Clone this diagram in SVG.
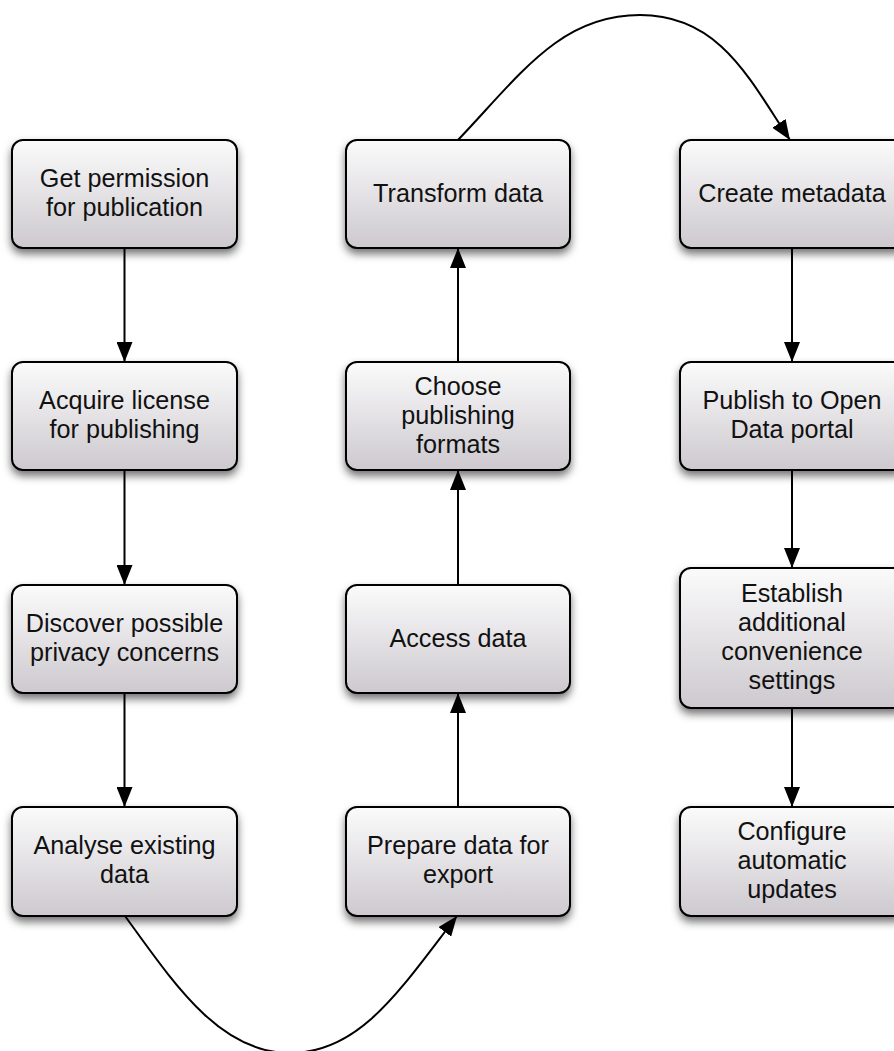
<svg xmlns="http://www.w3.org/2000/svg" width="894" height="1051" viewBox="0 0 894 1051">
<defs>
<linearGradient id="g" x1="0" y1="0" x2="0" y2="1">
<stop offset="0" stop-color="#fbfbfb"/>
<stop offset="1" stop-color="#cdc9cf"/>
</linearGradient>
<filter id="sh" x="-10%" y="-10%" width="125%" height="135%">
<feDropShadow dx="0" dy="5" stdDeviation="4" flood-color="#000" flood-opacity="0.55"/>
</filter>
<marker id="ah" markerUnits="userSpaceOnUse" markerWidth="20" markerHeight="16" refX="20" refY="8" orient="auto">
<path d="M0,0 L20,8 L0,16 z" fill="#000"/>
</marker>
</defs>
<style>
.box{fill:url(#g);stroke:#000;stroke-width:2;filter:url(#sh)}
.t{font-family:"Liberation Sans",Arial,sans-serif;font-size:25.2px;fill:#111;text-anchor:middle}
.c{fill:none;stroke:#000;stroke-width:2;marker-end:url(#ah)}
</style>
<g id="connectors">
<path class="c" d="M124.5,248 V362"/>
<path class="c" d="M124.5,470 V585"/>
<path class="c" d="M124.5,693 V807"/>
<path class="c" d="M125,916 C175,985 220,1053 290,1053 C360,1053 400,990 457,916"/>
<path class="c" d="M458,807 V693"/>
<path class="c" d="M458,585 V470"/>
<path class="c" d="M458,362 V248"/>
<path class="c" d="M458,140 C520,75 560,15 640,15 C720,15 750,80 790,140"/>
<path class="c" d="M792,248 V362"/>
<path class="c" d="M792,470 V568"/>
<path class="c" d="M792,708 V807"/>
</g>
<g id="n1"><rect class="box" x="12" y="140" width="225" height="108" rx="11"/>
<text class="t" x="124.5" y="187">Get permission</text><text class="t" x="124.5" y="216">for publication</text></g>
<g id="n2"><rect class="box" x="12" y="362" width="225" height="108" rx="11"/>
<text class="t" x="124.5" y="409">Acquire license</text><text class="t" x="124.5" y="438">for publishing</text></g>
<g id="n3"><rect class="box" x="12" y="585" width="225" height="108" rx="11"/>
<text class="t" x="124.5" y="632">Discover possible</text><text class="t" x="124.5" y="661">privacy concerns</text></g>
<g id="n4"><rect class="box" x="12" y="807" width="225" height="109" rx="11"/>
<text class="t" x="124.5" y="854">Analyse existing</text><text class="t" x="124.5" y="883">data</text></g>
<g id="n5"><rect class="box" x="346" y="807" width="224" height="109" rx="11"/>
<text class="t" x="458" y="854">Prepare data for</text><text class="t" x="458" y="883">export</text></g>
<g id="n6"><rect class="box" x="346" y="585" width="224" height="108" rx="11"/>
<text class="t" x="458" y="647">Access data</text></g>
<g id="n7"><rect class="box" x="346" y="362" width="224" height="108" rx="11"/>
<text class="t" x="458" y="395">Choose</text><text class="t" x="458" y="424">publishing</text><text class="t" x="458" y="453">formats</text></g>
<g id="n8"><rect class="box" x="346" y="140" width="224" height="108" rx="11"/>
<text class="t" x="458" y="202">Transform data</text></g>
<g id="n9"><rect class="box" x="680" y="140" width="225" height="108" rx="11"/>
<text class="t" x="792" y="202">Create metadata</text></g>
<g id="n10"><rect class="box" x="680" y="362" width="225" height="108" rx="11"/>
<text class="t" x="792" y="409">Publish to Open</text><text class="t" x="792" y="438">Data portal</text></g>
<g id="n11"><rect class="box" x="680" y="568" width="225" height="140" rx="11"/>
<text class="t" x="792" y="602">Establish</text><text class="t" x="792" y="631">additional</text><text class="t" x="792" y="660">convenience</text><text class="t" x="792" y="689">settings</text></g>
<g id="n12"><rect class="box" x="680" y="807" width="225" height="109" rx="11"/>
<text class="t" x="792" y="840">Configure</text><text class="t" x="792" y="869">automatic</text><text class="t" x="792" y="898">updates</text></g>
</svg>
